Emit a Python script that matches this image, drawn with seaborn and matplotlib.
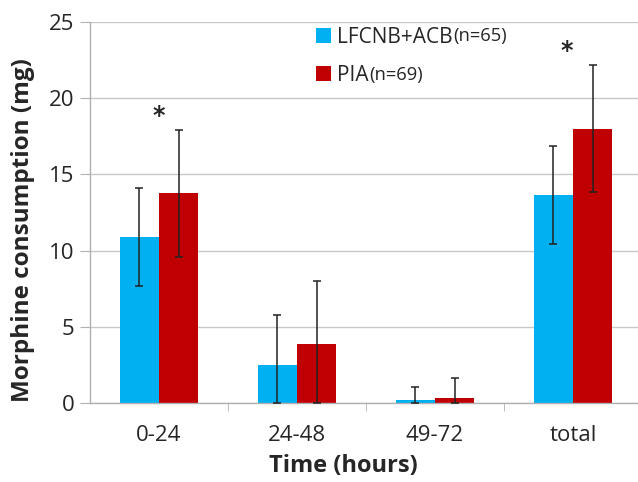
import matplotlib
matplotlib.use("Agg")
import matplotlib.pyplot as plt
import seaborn as sns
import pandas as pd
import numpy as np

categories = ["0-24", "24-48", "49-72", "total"]
groups = ["LFCNB+ACB", "PIA"]
group_n = ["(n=65)", "(n=69)"]
means_lfcnb = [10.9, 2.5, 0.2, 13.65]
sd_lfcnb = [3.2, 3.25, 0.87, 3.2]
means_pia = [13.75, 3.9, 0.35, 18.0]
sd_pia = [4.15, 4.1, 1.3, 4.15]
significant = [True, False, False, True]
colors = ["#00B0F0", "#C00000"]

sns.set_style("white")
plt.rcParams['font.family'] = ['Open Sans', 'DejaVu Sans']

df = pd.DataFrame({
    "Time": categories * 2,
    "Group": [groups[0]] * 4 + [groups[1]] * 4,
    "Morphine": means_lfcnb + means_pia,
})

fig = plt.figure(figsize=(6.38, 4.82), dpi=100)
ax = fig.add_axes([90/638, 79/482, (642-90)/638, (403-22)/482])

sns.barplot(data=df, x="Time", y="Morphine", hue="Group", palette=colors,
            width=0.572, errorbar=None, ax=ax, saturation=1, zorder=2,
            linewidth=0, edgecolor="none")

# error bars (lower part clipped at zero)
sds = [sd_lfcnb, sd_pia]
means = [means_lfcnb, means_pia]
bar_conts = list(ax.containers)
for gi, cont in enumerate(bar_conts):
    xs = [p.get_x() + p.get_width() / 2 for p in cont.patches]
    m = np.array(means[gi]); s = np.array(sds[gi])
    lower = np.minimum(s, m)
    ax.errorbar(xs, m, yerr=[lower, s], fmt="none", ecolor="#222222",
                elinewidth=1.1, capsize=2.8, capthick=1.1, zorder=3)

# significance stars
top = np.maximum(np.array(means_pia) + np.array(sd_pia),
                 np.array(means_lfcnb) + np.array(sd_lfcnb))
for i, sig in enumerate(significant):
    if sig:
        ax.annotate("*", xy=(i, top[i]), xytext=(-4.5 if i == 3 else -0.5, 1.5),
                    textcoords="offset points",
                    ha="center", va="bottom", fontsize=17, fontweight="bold",
                    family="DejaVu Sans")

ax.set_ylim(0, 25)
ax.set_xlim(-0.5, 3.5)
ax.set_yticks([0, 5, 10, 15, 20, 25])
ax.yaxis.grid(True, color="#c8c8c8", linewidth=1.0, zorder=0)
ax.set_axisbelow(True)
for sp in ["top", "right"]:
    ax.spines[sp].set_visible(False)
for sp in ["left", "bottom"]:
    ax.spines[sp].set_color("#b0b0b0")
    ax.spines[sp].set_linewidth(1.0)

ax.tick_params(axis="y", which="major", length=7, color="#b0b0b0", labelsize=16,
               direction="out", pad=4, left=True)
ax.tick_params(axis="x", which="major", length=0, labelsize=16, pad=16)
ax.set_xticks([0.5, 1.5, 2.5], minor=True)
ax.tick_params(axis="x", which="minor", length=6, color="#b0b0b0", direction="out", bottom=True)

ax.set_ylabel("Morphine consumption (mg)", fontsize=17.5, fontweight="bold")
ax.yaxis.set_label_coords((35-90)/552, (403-230)/381)
ax.set_xlabel("Time (hours)", fontsize=17, fontweight="bold")
ax.xaxis.set_label_coords((343-90)/552, (403-454)/381)

# legend
handles, labels = ax.get_legend_handles_labels()
leg = ax.legend(handles, groups, loc="upper left", bbox_to_anchor=((303-90)/552, 1.02),
                frameon=False, fontsize=15, handlelength=0.72, handleheight=0.72,
                handletextpad=0.3, labelspacing=0.83, borderaxespad=0.2)
fig.canvas.draw()
inv = fig.transFigure.inverted()
for t, n in zip(leg.get_texts(), group_n):
    bb = t.get_window_extent()
    x0, y0 = inv.transform((bb.x1 + 1, (bb.y0 + bb.y1) / 2 + 1))
    fig.text(x0, y0, n, ha="left", va="center", fontsize=13.2)

fig.savefig("out.png", dpi=100)
